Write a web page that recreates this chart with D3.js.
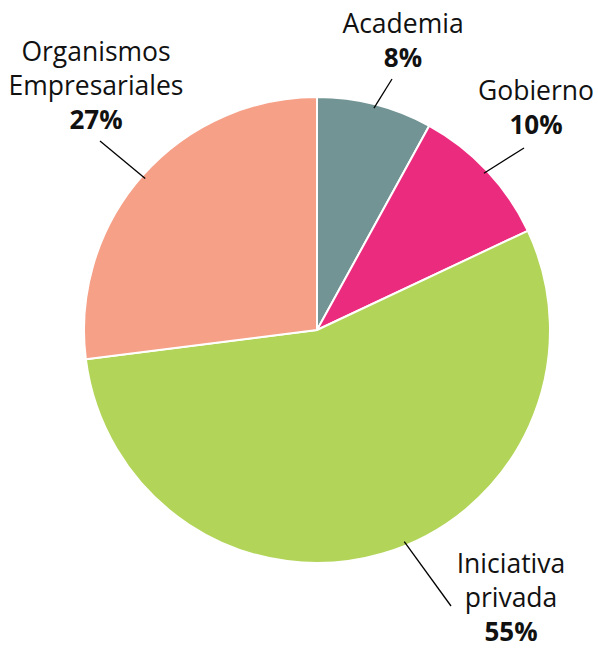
<!DOCTYPE html>
<html><head><meta charset="utf-8">
<script src="https://cdn.jsdelivr.net/npm/d3@7"></script>
<style>body{margin:0;background:#fff}svg{display:block}</style>
</head><body>
<svg id="c" width="598" height="654"></svg>
<script>
const categories = ["Academia", "Gobierno", "Iniciativa privada", "Organismos Empresariales"];
const values = [8, 10, 55, 27];
const colors = ["#739494", "#EB2C7E", "#B2D459", "#F5A087"];
const labelLines = [["Academia"], ["Gobierno"], ["Iniciativa", "privada"], ["Organismos", "Empresariales"]];

// layout (baseline of last name line relative to centre, leader endpoints)
const layout = [
  {lx: 86, ly: -297, leaderAngle: null, outer: [75, -251]},
  {lx: 219, ly: -230, leaderAngle: null, outer: [207, -182]},
  {lx: 194, ly: 277, leaderAngle: 157.6, outer: [134, 276]},
  {lx: -221, ly: -235, leaderAngle: null, outer: [-217, -189]}
];

const svg = d3.select("#c");
const cx = 317, cy = 330, R = 233;
const g = svg.append("g").attr("transform", `translate(${cx},${cy})`);

const pie = d3.pie().sort(null).value(d => d)(values);
const arc = d3.arc().innerRadius(0).outerRadius(R);

g.selectAll("path.slice").data(pie).join("path")
  .attr("class", "slice")
  .attr("d", arc)
  .attr("fill", (d, i) => colors[i])
  .attr("stroke", "#fff").attr("stroke-width", 2).attr("stroke-linejoin", "round");

const fmt = d3.format(".0%");
const total = d3.sum(values);

pie.forEach((d, i) => {
  const L = layout[i];
  const a = L.leaderAngle != null ? L.leaderAngle * Math.PI / 180 : (d.startAngle + d.endAngle) / 2;
  const ri = R - 4;
  g.append("line")
    .attr("x1", Math.sin(a) * ri).attr("y1", -Math.cos(a) * ri)
    .attr("x2", L.outer[0]).attr("y2", L.outer[1])
    .attr("stroke", "#000").attr("stroke-width", 1.3);
  const lines = labelLines[i];
  const t = g.append("text").attr("text-anchor", "middle")
    .attr("font-family", "'Open Sans', sans-serif").attr("font-size", 26.5).attr("fill", "#111");
  const lh = 34;
  const n = lines.length;
  lines.forEach((s, k) => {
    t.append("tspan").attr("x", L.lx).attr("y", L.ly - (n - 1 - k) * lh).text(s);
  });
  t.append("tspan").attr("x", L.lx).attr("y", L.ly + lh)
    .attr("font-weight", "bold").attr("font-size", 26).text(fmt(values[i] / total));
});
</script>
</body></html>
